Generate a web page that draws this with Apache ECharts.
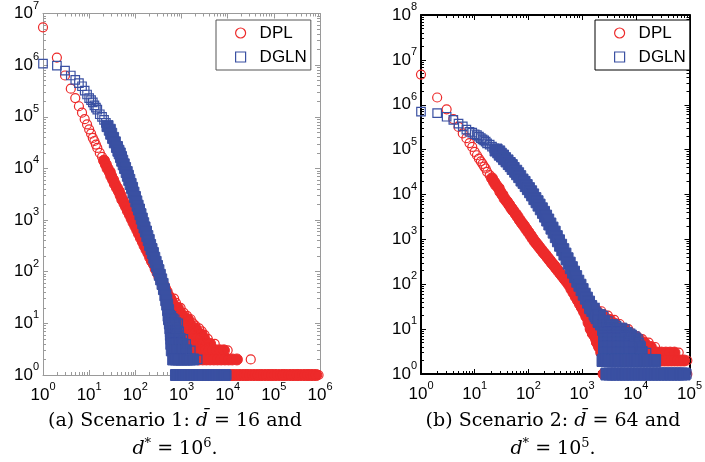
<!DOCTYPE html>
<html><head><meta charset="utf-8">
<script src="https://cdn.jsdelivr.net/npm/echarts@6/dist/echarts.min.js"></script>
<style>html,body{margin:0;padding:0;background:#fff}#c{width:705px;height:462px}</style>
</head><body><div id="c"></div>
<script>
// ---------- Scenario 1 (left panel) ----------
const dplA_sparse = [[1,5.4e6],[2,1.4e6],[3,6.3e5],[4,3.5e5],[5,2.3e5],[6,1.6e5],[7,1.2e5],[8,9.0e4],[9,7.1e4],[10,5.7e4],[11,4.7e4],[12,3.9e4],[13,3.4e4],[14,2.9e4],[15,2.5e4],[17,2.0e4],[19,1.68e4]];
const dplA_band = [[21,1.42e4],[23,1.19e4],[25,1.0e4],[28,8.5e3],[30,7.1e3],[33,6.0e3],[36,5.0e3],[40,4.2e3],[44,3.6e3],[48,3.0e3],[52,2.5e3],[58,2.1e3],[63,1.8e3],[69,1.5e3],[76,1.27e3],[83,1.07e3],[91,900],[100,760],[110,640],[120,540],[132,450],[145,380],[158,320],[174,270],[191,230],[209,190],[229,160],[251,140],[275,114],[302,96],[331,81],[363,68],[398,57],[437,48],[479,41],[525,34],[575,29],[631,24]];
const dplA_rows = [[30,[575,692]],[25,[631,759]],[20,[724,832,955]],[16,[794,933,1122]],[14,[891,1072,1318]],[12,[955,1148,1380,1585]],[10,[1000,1202,1445,1778]],[9,[1259,1585,1995]],[8,[1148,1380,1660,1995,2399]],[7,[1259,1514,1820,2188,2754]],[6,[1318,1585,1905,2291,2754,3162]],[5,[1479,1778,2138,2570,3090,3715]],[4,[1660,1995,2399,2884,3467,4169,5248]],[3,[1905,2291,2754,3311,3981,4786,5754,6918,8318,10000]],[2,[2399,2884,3467,4169,5012,6026,7244,8710,10471,12589,15849,31623]],[1,[2500,2900,3300,3800,4400,5000,5800,6600,7600,8700,1e4,1.15e4,1.3e4,1.5e4,1.75e4,2e4,2.3e4,2.6e4,3e4,3.5e4,4e4,4.6e4,5.2e4,6e4,6.9e4,7.9e4,9.1e4,1.05e5,1.2e5,1.4e5,1.6e5,1.8e5,2.1e5,2.4e5,2.75e5,3.2e5,3.6e5,4.2e5,4.8e5,5.5e5,6.3e5,7.2e5,8.3e5,9.3e5]]];

const dglnA_sparse = [[1,1.07e6],[2,9.8e5],[3,7.8e5],[4,6.3e5],[5,5.2e5],[6,4.5e5],[7,3.9e5],[8,3.2e5],[9,2.7e5],[10,2.3e5],[11,2.1e5],[12,1.9e5],[13,1.66e5],[14,1.5e5],[15,1.38e5],[17,1.12e5],[19,1.0e5],[21,8.7e4],[23,7.6e4]];
const dglnA_band = [[25,6.6e4],[28,5.6e4],[30,4.7e4],[33,3.9e4],[36,3.2e4],[40,2.6e4],[43,2.2e4],[46,1.95e4],[49,1.66e4],[52,1.41e4],[56,1.2e4],[60,1.02e4],[65,8.5e3],[69,7.2e3],[74,6.0e3],[79,5.0e3],[85,4.2e3],[91,3.4e3],[98,2.8e3],[105,2.3e3],[112,1.9e3],[120,1.6e3],[129,1.3e3],[138,1.07e3],[148,870],[158,720],[170,600],[182,490],[195,410],[209,330],[224,275],[240,230],[257,186],[275,155],[295,129],[316,107],[339,87],[363,71],[389,58],[417,46],[447,35],[468,28],[490,23],[513,18],[537,14],[562,10]];
const dglnA_rows = [[14,[525,603]],[12,[537,617,708]],[10,[562,646,741,851]],[8,[575,661,759]],[7,[589,676,776,891]],[6,[589,676,776,891]],[5,[603,692,794,912,1096]],[4,[603,692,794,912,1047,1259]],[3,[617,708,813,933,1072,1259,1585]],[2,[661,759,871,1000,1148,1318,1514,1778,2239]],[1,[759,832,955,1096,1259,1445,1660,1905,2188,2512,2884,3311,3802,4365,5012,5754,6607,7586,8710,9550]]];

// ---------- Scenario 2 (right panel) ----------
const dplB_sparse = [[1,4.7e6],[2,1.45e6],[3,7.9e5],[4,4.8e5],[5,3.2e5],[6,2.3e5],[7,1.8e5],[8,1.4e5],[9,1.15e5],[10,8.9e4],[11,7.5e4],[12,6.3e4],[13,5.5e4],[14,4.8e4],[15,4.2e4],[16,3.8e4],[17,3.2e4],[19,2.7e4]];
const dplB_band = [[21,2.3e4],[23,1.9e4],[25,1.62e4],[28,1.38e4],[30,1.15e4],[33,9.8e3],[36,8.1e3],[40,6.9e3],[44,5.9e3],[48,5.0e3],[52,4.4e3],[58,3.7e3],[63,3.2e3],[69,2.7e3],[76,2.3e3],[83,2.0e3],[91,1.7e3],[100,1.45e3],[110,1.23e3],[120,1.05e3],[132,890],[145,780],[158,680],[174,590],[191,510],[209,450],[229,390],[251,340],[275,295],[302,260],[331,225],[363,195],[398,170],[437,148],[479,128],[525,112],[575,96],[631,78],[692,65],[759,53],[832,44],[912,36],[1000,30],[1096,24],[1202,19],[1318,14],[1445,11],[1585,8],[1738,7],[1905,5],[2089,4],[2291,3],[2512,2]];
const dplB_rows = [[30,[1000,1202,1445,1738]],[25,[1096,1318,1585,1905,2291]],[20,[1202,1445,1738,2089,2512,3020]],[16,[1318,1585,1905,2291,2754,3311,3981]],[13,[1380,1660,1995,2399,2884,3467,4169,5012]],[10,[1445,1738,2089,2512,3020,3631,4365,5248,6310,7244]],[8,[1585,1905,2291,2754,3311,3981,4786,5754,6918,8318]],[7,[1738,2089,2512,3020,3631,4365,5248,6310,7586,9120,10471]],[6,[1820,2188,2630,3162,3802,4571,5495,6607,7943,9550,11482,13183]],[5,[1905,2291,2754,3311,3981,4786,5754,6918,8318,10000,12023,14454,17378]],[4,[2089,2512,3020,3631,4365,5248,6310,7586,9120,10965,13183,15849,19055,22909]],[3,[2291,2754,3311,3981,4786,5754,6918,8318,10000,12023,14454,17378,20893,25119,30200,36308,43652,52481,63000]],[2,[2512,2884,3311,3802,4365,5012,5754,6607,7586,8710,10000,11482,13183,15136,17378,19953,22909,26303,30200,34674,39811,45709,52481,60256,69183,79433,91201]],[1,[2512,3311,4365,5754,7586,10000,13183,17378,22909,30200,39811,52481,69183,91201]]];

const dglnB_sparse = [[1,7.0e5],[2,6.5e5],[3,5.4e5],[4,4.6e5],[5,3.8e5],[6,3.3e5],[7,2.8e5],[8,2.5e5],[9,2.4e5],[10,2.2e5],[11,2.1e5],[12,1.95e5],[13,1.8e5],[14,1.7e5],[15,1.6e5],[16,1.5e5],[17,1.38e5],[19,1.29e5],[21,1.17e5],[23,1.07e5]];
const dglnB_band = [[25,9.8e4],[28,8.9e4],[30,7.9e4],[33,7.2e4],[36,6.3e4],[40,5.6e4],[44,4.9e4],[48,4.4e4],[52,3.8e4],[58,3.3e4],[63,2.9e4],[69,2.5e4],[76,2.1e4],[83,1.86e4],[91,1.58e4],[100,1.35e4],[110,1.15e4],[120,9.8e3],[132,8.1e3],[145,6.9e3],[158,5.8e3],[174,4.8e3],[191,4.0e3],[209,3.3e3],[229,2.7e3],[251,2.2e3],[275,1.78e3],[302,1.45e3],[331,1.15e3],[363,930],[398,740],[437,590],[479,470],[525,370],[575,295],[631,234],[692,186],[759,148],[832,117],[912,95],[1000,76],[1096,60],[1202,49],[1318,40],[1445,32],[1585,26],[1738,22],[1905,18],[2089,15],[2291,13],[2512,10]];
const dglnB_rows = [[30,[1445,1738]],[20,[1820,2089,2512]],[15,[2089,2512,3020]],[12,[2512,3020,3631,4365]],[10,[2512,3020,3631,4365,5248,6310]],[8,[2630,3162,3802,4571,5495,6607,7943]],[7,[2630,3162,3802,4571,5495,6607,7943,9550]],[6,[2630,3162,3802,4571,5495,6607,7943,9550,10965]],[5,[2630,3162,3802,4571,5495,6607,7943,9550,11482]],[4,[2630,3162,3802,4571,5495,6607,7943,9550,11482,12589]],[3,[2630,3162,3802,4571,5495,6607,7943,9550,11482,12589,15849]],[2,[2455,2818,3236,3715,4266,4898,5623,6457,7413,8511,9772,11220,12882,14791,16982,19498,22387,23988]],[1,[2900,3300,3800,4400,5000,5800,6600,7600,8700,10000,11500,13200,15100,17400,20000,22900,26300,30200,34700,39800,45700,52500,60300,69200,79400,89100]]];

const seriesNames = ['DPL', 'DGLN'];
const captionA = ['(a) Scenario 1: {i|d\u0304} = 16 and', '{i|d}{sup|*} = 10{sup|6}.'];
const captionB = ['(b) Scenario 2: {i|d\u0304} = 64 and', '{i|d}{sup|*} = 10{sup|5}.'];

// ---------- build ----------
const RED = '#ed2a2a', BLUE = '#3a50a2';
// dense band + row points are drawn as filled markers (they overlap into a solid band);
// the last point of every row stays an open marker like the scattered ones
function denseData(band, rows) {
  const out = band.slice();
  rows.forEach(([lvl, xs]) => xs.slice(0, -1).forEach(x => out.push([x, lvl])));
  return out;
}
function openData(sparse, rows) {
  const out = sparse.slice();
  rows.forEach(([lvl, xs]) => out.push([xs[xs.length - 1], lvl]));
  return out;
}
function scatter(name, gi, symbol, size, color, data, filled) {
  return {type: 'scatter', name, xAxisIndex: gi * 2, yAxisIndex: gi * 2, symbol, symbolSize: size,
    itemStyle: {color: filled ? color : 'rgba(0,0,0,0)', borderColor: color, borderWidth: filled ? 1 : 1.2, opacity: 1},
    emphasis: {disabled: true}, silent: true, data};
}
const LABFONT = 'Liberation Sans, Arial, Helvetica, sans-serif';
function labelCfg(show, isX) {
  return {show, color: '#000', fontFamily: LABFONT, fontSize: 17, margin: isX ? 11 : 4,
    formatter: v => '{b|10}{s|' + Math.round(Math.log10(v)) + '}',
    rich: {b: {fontSize: 17, lineHeight: 18, fontFamily: LABFONT, color: '#000'},
           s: {fontSize: 11, lineHeight: 12, fontFamily: LABFONT, color: '#000', padding: [0, 0, 16, 0]}}};
}
function axis(gi, pos, max, color, lw, showLabel, isX) {
  return {type: 'log', logBase: 10, gridIndex: gi, position: pos, min: 1, max, splitNumber: 10,
    axisLine: {show: true, onZero: false, lineStyle: {color, width: lw}},
    axisTick: {show: true, inside: true, length: 5, lineStyle: {color, width: 1}},
    minorTick: {show: true, splitNumber: 9, length: 3, lineStyle: {color, width: 1}},
    splitLine: {show: false}, minorSplitLine: {show: false},
    axisLabel: labelCfg(showLabel, isX)};
}
const GRAY = '#9a9a9a';
const option = {
  animation: false,
  backgroundColor: '#fff',
  grid: [
    {left: 43, top: 13, width: 277, height: 362},
    {left: 421, top: 15, width: 276, height: 359}
  ],
  xAxis: [
    axis(0, 'bottom', 1e6, GRAY, 1, true, true), axis(0, 'top', 1e6, GRAY, 1, false, true),
    axis(1, 'bottom', 1e5, '#000', 2, true, true), axis(1, 'top', 1e5, '#000', 2, false, true)
  ],
  yAxis: [
    axis(0, 'left', 1e7, GRAY, 1, true, false), axis(0, 'right', 1e7, GRAY, 1, false, false),
    axis(1, 'left', 1e8, '#000', 2, true, false), axis(1, 'right', 1e8, '#000', 2, false, false)
  ],
  legend: [0, 1].map(i => ({
    left: i === 0 ? 216 : 595, top: 20, orient: 'vertical', itemWidth: 28, itemHeight: 10, itemGap: 6,
    padding: [4, 4, 4, 19], borderColor: i === 0 ? '#555' : '#000', borderWidth: 1, backgroundColor: '#fff',
    selectedMode: false,
    textStyle: {fontFamily: LABFONT, fontSize: 17, lineHeight: 18, color: '#000'},
    data: [
      {name: seriesNames[0], icon: 'circle', itemStyle: {color: 'rgba(0,0,0,0)', borderColor: RED, borderWidth: 1.2}},
      {name: seriesNames[1], icon: 'path://M0,0L10,0L10,10L0,10Z', itemStyle: {color: 'rgba(0,0,0,0)', borderColor: BLUE, borderWidth: 1.2}}
    ]
  })),
  title: [[175, captionA], [553, captionB]].flatMap(([cx, lines]) => lines.map((t, k) => ({
    left: cx, top: k === 0 ? 412 : 437, textAlign: 'center', padding: 0, text: t,
    textStyle: {fontFamily: 'DejaVu Serif, serif', fontSize: 19, fontWeight: 'normal', color: '#000',
      rich: {i: {fontStyle: 'italic', fontFamily: 'DejaVu Serif, serif', fontSize: 19, color: '#000'},
             sup: {fontSize: 13, fontFamily: 'DejaVu Serif, serif', color: '#000', padding: [0, 0, 11, 0]}}}
  }))),
  series: [
    scatter(seriesNames[0], 0, 'circle', 11, RED, denseData(dplA_band, dplA_rows), true),
    scatter(seriesNames[0], 0, 'circle', 9, RED, openData(dplA_sparse, dplA_rows), false),
    scatter(seriesNames[1], 0, 'rect', 11, BLUE, denseData(dglnA_band, dglnA_rows), true),
    scatter(seriesNames[1], 0, 'rect', 8.5, BLUE, openData(dglnA_sparse, dglnA_rows), false),
    scatter(seriesNames[0], 1, 'circle', 11, RED, denseData(dplB_band, dplB_rows), true),
    scatter(seriesNames[0], 1, 'circle', 9, RED, openData(dplB_sparse, dplB_rows), false),
    scatter(seriesNames[1], 1, 'rect', 12, BLUE, denseData(dglnB_band, dglnB_rows), true),
    scatter(seriesNames[1], 1, 'rect', 8.5, BLUE, openData(dglnB_sparse, dglnB_rows), false)
  ]
};
const chart = echarts.init(document.getElementById('c'), null, {renderer: 'canvas'});
chart.setOption(option);
</script></body></html>
